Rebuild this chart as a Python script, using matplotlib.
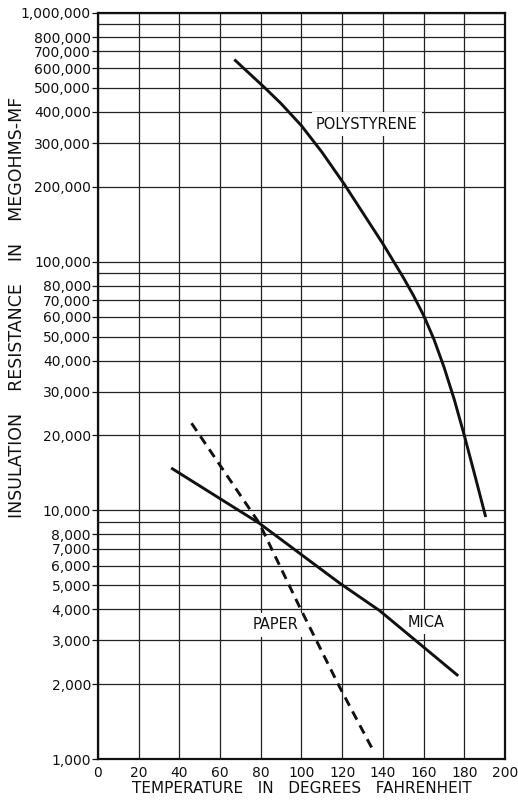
import matplotlib
matplotlib.use("Agg")
import matplotlib.pyplot as plt
from matplotlib.ticker import FixedLocator, NullLocator

# Data
poly_x = [67, 82, 90, 100, 110, 121, 140, 145, 150, 155, 160, 165, 170, 175, 180, 185, 190.5]
poly_y = [650000, 500000, 432000, 352000, 276000, 205000, 118000, 101000, 86400, 73100,
          60800, 48900, 37700, 28000, 20000, 14000, 9400]

mica_x = [36, 79.3, 118.7, 138.4, 177]
mica_y = [14800, 8870, 5100, 3950, 2160]

paper_x = [46, 79.3, 99, 118.7, 135.1]
paper_y = [22400, 8870, 4100, 1950, 1087]

x_ticks = [0, 20, 40, 60, 80, 100, 120, 140, 160, 180, 200]
y_labeled = [1000, 2000, 3000, 4000, 5000, 6000, 7000, 8000,
             10000, 20000, 30000, 40000, 50000, 60000, 70000, 80000,
             100000, 200000, 300000, 400000, 500000, 600000, 700000, 800000,
             1000000]
y_unlabeled = [9000, 90000, 900000]

plt.rcParams['font.family'] = ['DejaVu Sans']

fig = plt.figure(figsize=(5.18, 8.01), dpi=100)
ax = fig.add_axes([0.189, 0.0524, 0.786, 0.9314])
ax.set_yscale('log')
ax.set_xlim(0, 200)
ax.set_ylim(1000, 1000000)

grid_kw = dict(color='#222222', lw=0.9, zorder=1)
for xv in x_ticks:
    ax.axvline(xv, **grid_kw)
for yv in y_labeled + y_unlabeled:
    ax.axhline(yv, **grid_kw)

ax.plot(poly_x, poly_y, color='#111111', lw=2.1, zorder=3, solid_capstyle='butt',
        solid_joinstyle='round')
ax.plot(mica_x, mica_y, color='#111111', lw=2.1, zorder=3, solid_capstyle='butt')
ax.plot(paper_x, paper_y, color='#111111', lw=2.1, zorder=3, dashes=(3.2, 2.2))

txt_kw = dict(fontsize=10.5, color='#111111', ha='center', va='center', zorder=2,
              bbox=dict(facecolor='white', edgecolor='none', pad=3))
ax.text(132, 357000, 'POLYSTYRENE', **txt_kw)
ax.text(87.5, 3460, 'PAPER', **txt_kw)
ax.text(161, 3550, 'MICA', **txt_kw)

ax.xaxis.set_major_locator(FixedLocator(x_ticks))
ax.set_xticklabels([str(v) for v in x_ticks], fontsize=10)
ax.yaxis.set_major_locator(FixedLocator(y_labeled))
ax.yaxis.set_minor_locator(NullLocator())
ax.set_yticklabels([f"{v:,}" for v in y_labeled], fontsize=10)
ax.tick_params(axis='y', length=4, width=0.9, pad=1, colors='#111111')
ax.tick_params(axis='x', length=0, pad=5, colors='#111111')

for s in ax.spines.values():
    s.set_linewidth(1.6)
    s.set_color('#111111')

ax.set_xlabel('TEMPERATURE   IN   DEGREES   FAHRENHEIT', fontsize=11, labelpad=1, color='#111111')
ax.set_ylabel('INSULATION    RESISTANCE    IN    MEGOHMS-MF', fontsize=12.5, color='#111111')
ax.yaxis.set_label_coords(-0.177, 0.606)

fig.savefig('out.png', dpi=100, facecolor='white')
